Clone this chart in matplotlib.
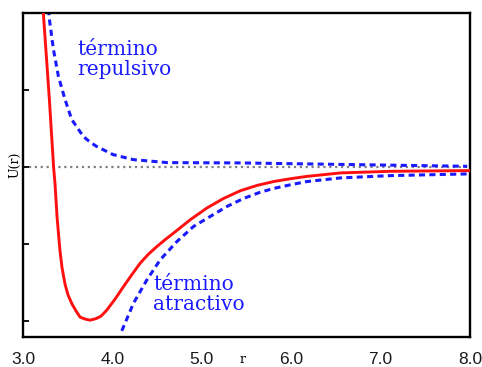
import matplotlib
matplotlib.use("Agg")
import matplotlib.pyplot as plt

# Potential curves (r in Angstrom, U in arbitrary units)
r_total = [3.215, 3.227, 3.295, 3.342, 3.358, 3.381, 3.398, 3.414, 3.437, 3.470, 3.504,
           3.549, 3.594, 3.639, 3.694, 3.750, 3.817, 3.873, 3.937, 4.030, 4.123, 4.215,
           4.310, 4.400, 4.497, 4.590, 4.683, 4.870, 5.057, 5.243, 5.430, 5.620, 5.803,
           6.000, 6.176, 6.550, 7.110, 7.969, 8.0]
u_total = [2.15, 2.008, 0.877, 0.0, -0.218, -0.648, -0.883, -1.091, -1.313, -1.522, -1.665,
           -1.783, -1.873, -1.952, -1.977, -1.991, -1.971, -1.939, -1.861, -1.717, -1.557,
           -1.404, -1.252, -1.137, -1.035, -0.945, -0.861, -0.687, -0.534, -0.410, -0.310,
           -0.240, -0.190, -0.152, -0.123, -0.078, -0.057, -0.048, -0.048]

r_rep = [3.285, 3.295, 3.340, 3.396, 3.470, 3.545, 3.675, 3.750, 3.825, 4.008, 4.232,
         4.613, 5.430, 7.969]
u_rep = [2.05, 1.920, 1.529, 1.177, 0.877, 0.616, 0.395, 0.323, 0.265, 0.160, 0.095,
         0.056, 0.052, 0.008]

r_att = [4.105, 4.235, 4.385, 4.534, 4.721, 4.907, 5.094, 5.281, 5.467, 5.650, 5.803,
         6.000, 6.177, 6.550, 7.110, 7.969]
u_att = [-2.130, -1.773, -1.469, -1.208, -0.970, -0.774, -0.644, -0.514, -0.410, -0.330,
         -0.280, -0.230, -0.190, -0.143, -0.113, -0.091]

x_ticks = [3.0, 4.0, 5.0, 6.0, 7.0, 8.0]
x_ticklabels = ["3.0", "4.0", "5.0", "6.0", "7.0", "8.0"]
y_ticks = [1, 0, -1, -2]

red = "#ff1010"
blue = "#1a1aff"

fig = plt.figure(figsize=(4.82, 3.67), dpi=100)
ax = fig.add_axes([23 / 482, 1 - 337 / 367, 447 / 482, 324 / 367])

ax.axhline(0, color="#808080", ls=":", lw=1.6, zorder=1)
ax.plot(r_rep, u_rep, color=blue, lw=2.2, dashes=(2.0, 1.4), zorder=2)
ax.plot(r_att, u_att, color=blue, lw=2.2, dashes=(2.0, 1.4), zorder=2)
ax.plot(r_total, u_total, color=red, lw=2.1, zorder=3, solid_joinstyle="round")

ax.text(3.605, 1.195, "término\nrepulsivo", color=blue, family="DejaVu Serif",
        fontsize=14.5, va="baseline", ha="left", linespacing=1.05)
ax.text(4.457, -1.857, "término\natractivo", color=blue, family="DejaVu Serif",
        fontsize=14.5, va="baseline", ha="left", linespacing=1.05)

ax.set_xlim(3.0, 8.0)
ax.set_ylim(-2.21, 2.0)
ax.set_xticks(x_ticks)
ax.set_xticklabels(x_ticklabels, family="Liberation Sans", fontsize=12.5, color="#1a1a1a")
ax.set_yticks(y_ticks)
ax.set_yticklabels([])
ax.tick_params(axis="x", length=0, pad=11)
ax.tick_params(axis="y", direction="in", length=4, width=1.3)

for s in ax.spines.values():
    s.set_linewidth(1.7)
    s.set_color("black")

fig.text(15 / 482, 1 - 165 / 367, "U(r)", rotation=90, family="DejaVu Serif",
         fontsize=9, ha="center", va="center")
fig.text(243 / 482, 1 / 367, "r", family="DejaVu Serif", fontsize=9,
         ha="center", va="bottom")

fig.savefig("out.png", dpi=100)
